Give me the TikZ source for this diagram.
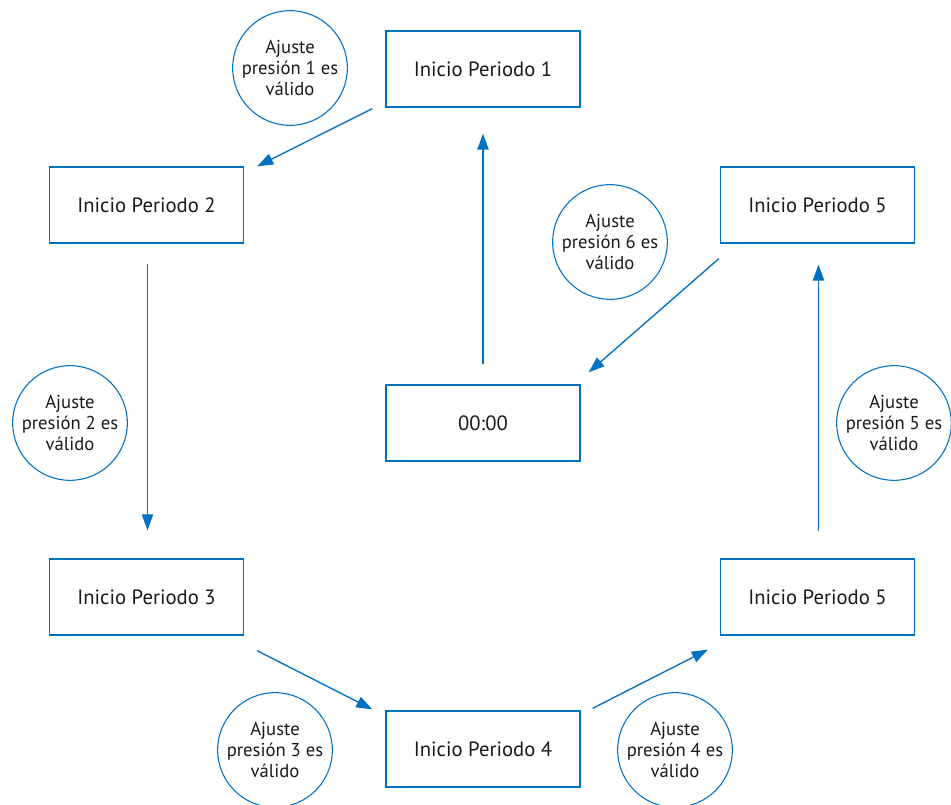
\documentclass[tikz,border=0pt]{standalone}
\usepackage{fontspec}
\setmainfont{PT Sans}
\usetikzlibrary{arrows.meta,calc,positioning}
\definecolor{flowblue}{RGB}{0,112,192}
\definecolor{textdark}{RGB}{25,25,25}

\tikzset{
  periodbox/.style={draw=flowblue, line width=1pt, minimum width=145.5pt, minimum height=57pt, inner sep=0pt, text=textdark, font=\fontsize{15.5}{18}\selectfont},
  checkcircle/.style={draw=flowblue, line width=0.8pt, circle, minimum size=86pt, inner sep=0pt, align=center, text=textdark, font=\fontsize{14}{15.75}\selectfont},
  flow/.style={flowblue, line width=1pt, -{Triangle[length=12pt,width=8.5pt]}}
}

\begin{document}
\begin{tikzpicture}[x=0.75pt, y=-0.75pt]
  \useasboundingbox (0,0) rectangle (951,805);

  % Period boxes
  \node[periodbox] (p1) at (483,69) {Inicio Periodo 1};
  \node[periodbox] (p2) at (146.5,205) {Inicio Periodo 2};
  \node[periodbox] (p5t) at (817.5,205) {Inicio Periodo 5};
  \node[periodbox] (zero) at (483,423) {00:00};
  \node[periodbox] (p3) at (146.5,597) {Inicio Periodo 3};
  \node[periodbox] (p5b) at (817.5,597) {Inicio Periodo 5};
  \node[periodbox] (p4) at (483,749) {Inicio Periodo 4};

  % Pressure checks
  \node[checkcircle] (c1) at (290,68) {Ajuste\\presión 1 es\\válido};
  \node[checkcircle] (c6) at (610,242) {Ajuste\\presión 6 es\\válido};
  \node[checkcircle] (c2) at (70,423) {Ajuste\\presión 2 es\\válido};
  \node[checkcircle] (c5) at (894,423) {Ajuste\\presión 5 es\\válido};
  \node[checkcircle] (c3) at (275,750) {Ajuste\\presión 3 es\\válido};
  \node[checkcircle] (c4) at (675,750) {Ajuste\\presión 4 es\\válido};

  % Transitions
  \draw[flow] ($(zero.north)+(0,-20)$) -- ($(p1.south)+(0,26)$);
  \draw[flow] ($(p1.south west)+(-13,1)$) -- ($(p2.north east)+(13,0)$);
  \draw[flow] ($(p2.south)+(1,20)$) -- ($(p3.north)+(1,-28)$);
  \draw[flow] ($(p3.south east)+(13,15)$) -- ($(p4.north west)+(-13,-1)$);
  \draw[flow] ($(p4.north east)+(12,-2)$) -- ($(p5b.south west)+(-12,14)$);
  \draw[flow] ($(p5b.north)+(1,-27)$) -- ($(p5t.south)+(1,21)$);
  \draw[flow] ($(p5t.south west)+(-1,15)$) -- ($(zero.north east)+(8,-12)$);
\end{tikzpicture}
\end{document}
